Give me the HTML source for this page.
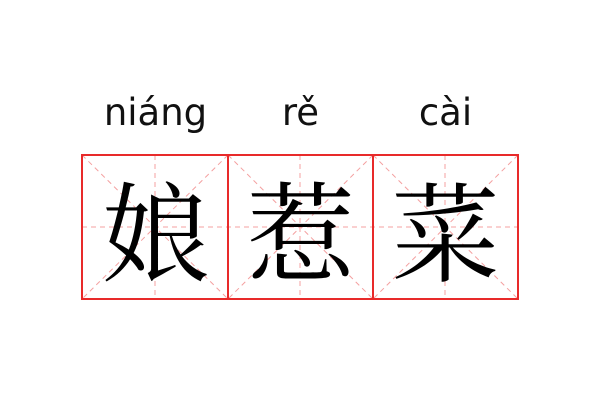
<!DOCTYPE html>
<html><head><meta charset="utf-8"><style>
html,body{margin:0;padding:0;background:#fff;width:600px;height:400px;overflow:hidden}
.py{position:absolute;top:91px;width:145px;text-align:center;font-family:"DejaVu Sans","Liberation Sans",sans-serif;font-size:37px;color:#111}
.ch{position:absolute;top:155px;width:145px;height:144px;line-height:144px;text-align:center;font-family:"Noto Serif CJK SC","WenQuanYi Zen Hei",serif;font-size:108px;color:#000}
</style></head><body>
<svg width="600" height="400" style="position:absolute;left:0;top:0">
<g stroke="#f4a0a0" stroke-width="1" stroke-dasharray="5,4" fill="none">
<line x1="82" y1="227" x2="518" y2="227"/>
<line x1="155" y1="155" x2="155" y2="299"/>
<line x1="300" y1="155" x2="300" y2="299"/>
<line x1="445" y1="155" x2="445" y2="299"/>
<line x1="82" y1="155" x2="228" y2="299"/><line x1="228" y1="155" x2="82" y2="299"/>
<line x1="228" y1="155" x2="373" y2="299"/><line x1="373" y1="155" x2="228" y2="299"/>
<line x1="373" y1="155" x2="518" y2="299"/><line x1="518" y1="155" x2="373" y2="299"/>
</g>
<g stroke="#e82a2a" stroke-width="2" fill="none">
<rect x="82" y="155" width="436" height="144"/>
<line x1="228" y1="155" x2="228" y2="299"/>
<line x1="373" y1="155" x2="373" y2="299"/>
</g>
</svg>
<div class="py" style="left:83px">niáng</div>
<div class="py" style="left:228px">rě</div>
<div class="py" style="left:373px">cài</div>
<div class="ch" style="left:83px">娘</div>
<div class="ch" style="left:228px">惹</div>
<div class="ch" style="left:373px">菜</div>
</body></html>
